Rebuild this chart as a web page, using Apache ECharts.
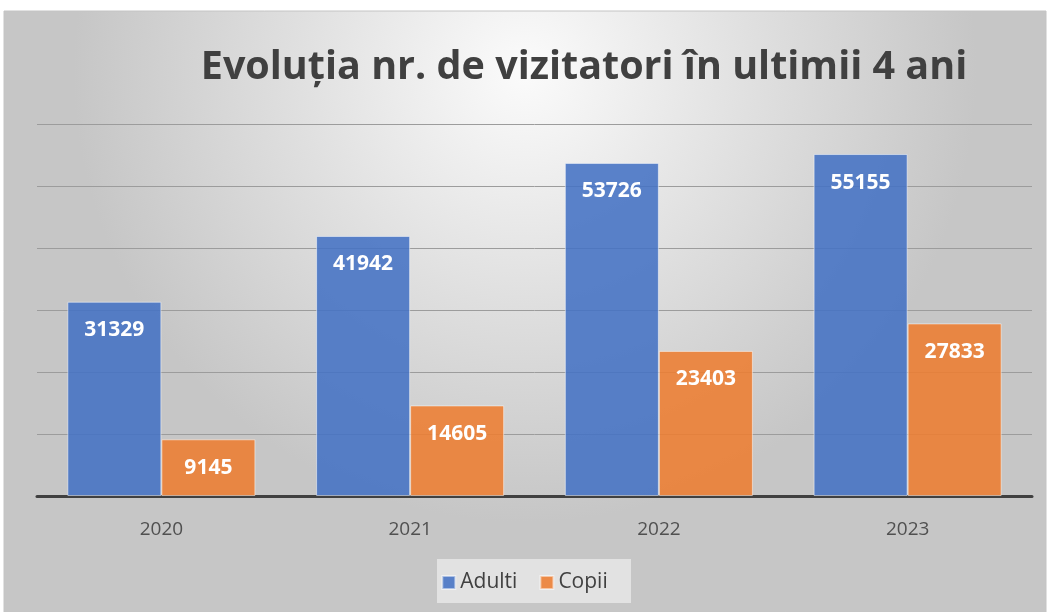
<!DOCTYPE html>
<html>
<head>
<meta charset="utf-8">
<script src="https://cdn.jsdelivr.net/npm/echarts@6/dist/echarts.min.js"></script>
<style>
  html, body { margin: 0; padding: 0; background: #fff; }
  #chart { width: 1049px; height: 612px; }
</style>
</head>
<body>
<div id="chart"></div>
<script>
  // date
  var years = ['2020', '2021', '2022', '2023'];
  var adulti = [31329, 41942, 53726, 55155];
  var copii = [9145, 14605, 23403, 27833];

  var chart = echarts.init(document.getElementById('chart'));
  var font = 'Open Sans, sans-serif';

  chart.setOption({
    animation: false,
    graphic: [
      {
        type: 'rect',
        z: -10,
        silent: true,
        shape: { x: 4, y: 11, width: 1042, height: 601 },
        style: {
          fill: {
            type: 'radial', x: 0.5, y: 0.1, r: 0.75,
            colorStops: [
              { offset: 0, color: '#fbfbfb' },
              { offset: 0.5, color: '#e0e0e0' },
              { offset: 1, color: '#c6c6c6' }
            ]
          },
          stroke: '#c4c4c4',
          lineWidth: 1
        }
      },
      {
        type: 'rect',
        z: -5,
        silent: true,
        shape: { x: 437, y: 559, width: 194, height: 44 },
        style: { fill: 'rgba(235,235,235,0.75)' }
      }
    ],
    title: {
      text: 'Evoluția nr. de vizitatori în ultimii 4 ani',
      left: 579,
      textAlign: 'center',
      top: 43,
      textStyle: {
        fontFamily: font,
        fontSize: 39.5,
        fontWeight: 'bold',
        color: '#404040'
      }
    },
    legend: {
      data: ['Adulti', 'Copii'],
      left: 'center',
      top: 567,
      icon: 'rect',
      itemWidth: 13,
      itemHeight: 13,
      itemGap: 22,
      textStyle: { fontFamily: font, fontSize: 21, color: '#404040' }
    },
    grid: { left: 37, right: 17, top: 124, bottom: 116 },
    xAxis: {
      type: 'category',
      data: years,
      axisTick: { show: false },
      axisLine: { lineStyle: { color: '#404040', width: 3 } },
      axisLabel: { fontFamily: font, fontSize: 19, color: '#505050', margin: 24 }
    },
    yAxis: {
      type: 'value',
      min: 0,
      max: 60000,
      interval: 10000,
      axisLabel: { show: false },
      axisLine: { show: false },
      axisTick: { show: false },
      splitLine: { lineStyle: { color: '#9c9c9c', width: 1 } }
    },
    series: [
      {
        name: 'Adulti',
        type: 'bar',
        data: adulti,
        barGap: '0%',
        barCategoryGap: '24.4%',
        itemStyle: { color: 'rgba(68,114,196,0.88)', borderColor: 'rgba(255,255,255,0.5)', borderWidth: 1 },
        label: {
          show: true, position: 'insideTop', distance: 18,
          fontFamily: font, fontSize: 21, fontWeight: 'bold', color: '#ffffff'
        }
      },
      {
        name: 'Copii',
        type: 'bar',
        data: copii,
        itemStyle: { color: 'rgba(237,125,49,0.88)', borderColor: 'rgba(255,255,255,0.5)', borderWidth: 1 },
        label: {
          show: true, position: 'insideTop', distance: 18,
          fontFamily: font, fontSize: 21, fontWeight: 'bold', color: '#ffffff'
        }
      }
    ]
  });
</script>
</body>
</html>
